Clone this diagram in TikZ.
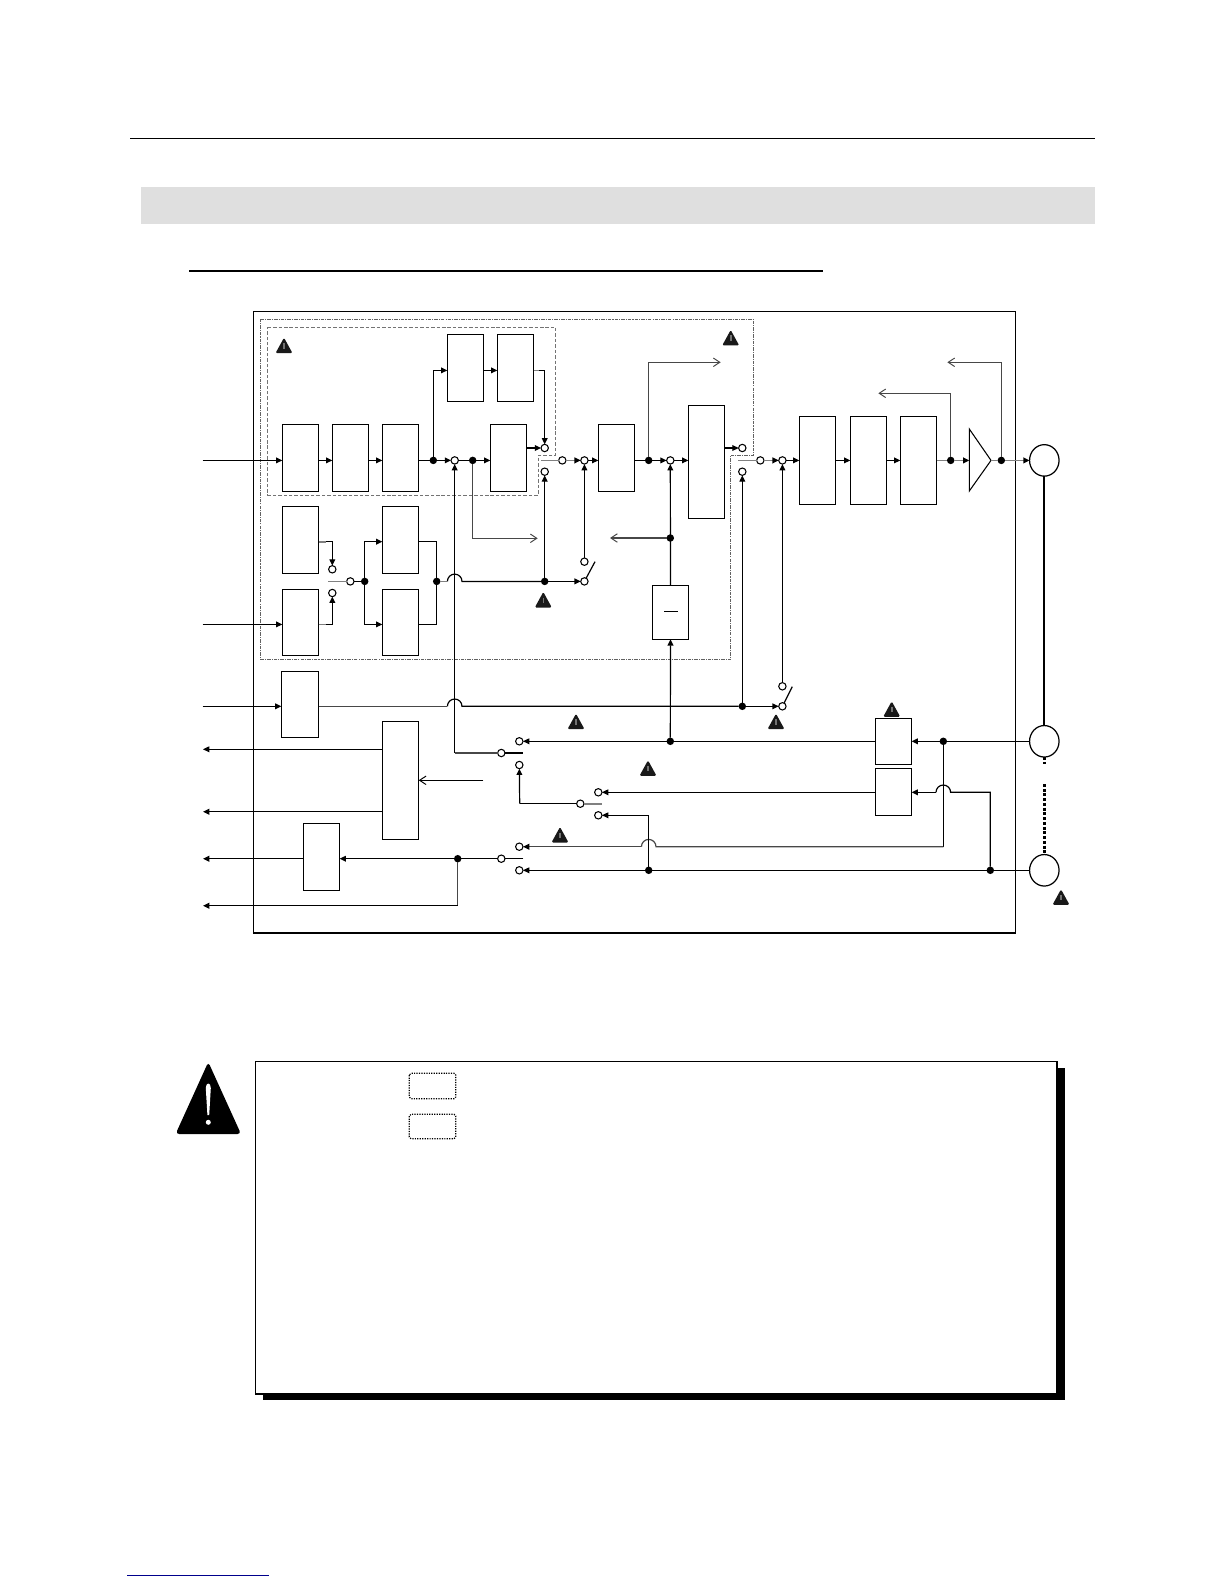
\documentclass[tikz,border=0pt]{standalone}
\usetikzlibrary{arrows.meta,calc,shapes.geometric}
\tikzset{
  x=0.02cm,y=-0.02cm,
  bx/.style={draw=black,fill=white,line width=0.7pt,inner sep=0pt,outer sep=0pt,rectangle},
  wire/.style={line width=0.68pt,draw=black},
  gwire/.style={line width=0.68pt,draw=black!72},
  stub/.style={line width=0.95pt,draw=black!50},
  ar/.style={-{Triangle[length=0.125cm,width=0.115cm,color=black]}},
  opn/.style={-{Straight Barb[length=0.13cm,width=0.17cm,line width=0.55pt]}},
  opencirc/.style={circle,draw=black,fill=white,line width=0.6pt,minimum size=0.148cm,inner sep=0pt,outer sep=0pt},
  dotc/.style={circle,fill=black,draw=none,minimum size=0.15cm,inner sep=0pt,outer sep=0pt},
  port/.style={ellipse,draw=black,fill=white,line width=0.7pt,minimum width=0.59cm,minimum height=0.63cm,inner sep=0pt,outer sep=0pt},
  dashdotline/.style={line width=0.65pt,draw=black!62,dash pattern=on 2pt off 0.6pt on 0.6pt off 0.6pt},
  dashline/.style={line width=0.55pt,draw=black!55,dash pattern=on 2pt off 1.1pt},
  warn/.pic={
    \fill[black!90,rounded corners=0.8pt] (0,-8) -- (8.5,7.5) -- (-8.5,7.5) -- cycle;
    \draw[black!55,line width=0.9pt] (0,-2.5) -- (0,3);
  },
}
\newcommand{\bxn}[5]{%
  \pgfmathsetmacro{\bxcx}{(#2+#3)/2}\pgfmathsetmacro{\bxcy}{(#4+#5)/2}%
  \pgfmathsetmacro{\bxw}{(#3-#2)*0.02}\pgfmathsetmacro{\bxh}{(#5-#4)*0.02}%
  \node[bx,minimum width=\bxw cm,minimum height=\bxh cm] (#1) at (\bxcx,\bxcy) {};}
\newcommand{\oc}[3]{\node[opencirc] (#1) at (#2,#3) {};}
\newcommand{\dt}[3]{\node[dotc] (#1) at (#2,#3) {};}
\begin{document}
\begin{tikzpicture}
\useasboundingbox (0,0) rectangle (1224,1584);
% page furniture
\fill[white] (0,0) rectangle (1224,1584);
\draw[line width=0.8pt] (130,138.3) -- (1095,138.3);
\fill[black!12.5] (141,187) rectangle (1095,224);
\draw[line width=1.25pt] (189,270.7) -- (823,270.7);
\draw[line width=0.8pt,draw=blue!55!black] (127,1575.3) -- (269,1575.3);

% outer frame
\draw[line width=0.75pt] (253.3,932.7) -- (253.3,311.7) -- (1015.7,311.7) -- (1015.7,932.7);
\draw[line width=1.25pt] (252.9,932.7) -- (1016.1,932.7);

% dashed regions
\draw[dashdotline] (260.7,319.3) -- (753.3,319.3) -- (753.3,455.3) -- (730.7,455.3) -- (730.7,659.3) -- (260.7,659.3) -- cycle;
\draw[dashline] (267.7,327.3) -- (555.7,327.3) -- (555.7,455.3) -- (538.3,455.3) -- (538.3,495) -- (267.7,495) -- cycle;

% boxes
\bxn{A}{282.3}{318.7}{424.3}{491.7}
\bxn{B}{332.3}{368.7}{424.3}{491.7}
\bxn{C}{382.3}{418.7}{424.3}{491.7}
\bxn{D}{490.3}{526.7}{424.3}{491.7}
\bxn{E}{447.3}{483.7}{334.3}{401.3}
\bxn{F}{497.3}{533.7}{334.3}{401.3}
\bxn{G}{282.3}{318.7}{506.3}{573.3}
\bxn{H}{282.3}{318.7}{589.3}{655.3}
\bxn{I}{382.3}{418.7}{506.3}{573.3}
\bxn{J}{382.3}{418.7}{589.3}{655.3}
\bxn{K}{598.3}{634.7}{424.3}{491.7}
\bxn{L}{688.3}{724.7}{405.3}{518.3}
\bxn{M}{652.3}{688.7}{585.3}{639.3}
\bxn{N}{799.3}{835.7}{416.3}{504.3}
\bxn{O}{850.3}{886.7}{416.3}{504.3}
\bxn{P}{900.3}{936.7}{416.3}{504.3}
\bxn{Q}{281.3}{318.7}{671.3}{737.7}
\bxn{R}{382.3}{418.7}{721.3}{839.3}
\bxn{S}{303.3}{339.7}{823.3}{890.3}
\bxn{T}{875.3}{911.7}{718.3}{764.3}
\bxn{U}{875.3}{911.7}{768.3}{815.7}
\draw[wire] (664.3,611.3) -- (678,611.3);
\coordinate (triT) at (969.3,429);
\coordinate (triB) at (969.3,491);
\coordinate (triW) at (969.3,460.4);
\coordinate (triE) at (991,460.4);
\draw[line width=0.6pt,fill=white] (triT) -- (triE) -- (triB) -- cycle;

% ports
\node[port] (p1) at (1044.3,460.4) {};
\node[port] (p2) at (1044.3,741.3) {};
\node[port] (p3) at (1044.3,870.3) {};
\draw[line width=1.25pt] (p1.south) -- (p2.north);
\draw[line width=1.5pt,dash pattern=on 1.7pt off 1pt] (p2.south) -- ++(0,7);
\draw[line width=1.5pt,dash pattern=on 1.7pt off 1pt] (1044.3,784) -- (p3.north);

% junctions and contacts
\dt{d1}{433.3}{460.4} \oc{c1}{454.7}{460.4} \dt{d2}{472.7}{460.4}
\oc{s1a}{544.7}{448} \oc{s1b}{544.7}{471.7}
\coordinate (s1p) at (541,460.4);
\oc{c2}{562.3}{460.4} \oc{c3}{584.4}{460.4}
\dt{d3}{648.7}{460.4} \oc{c4}{670.3}{460.4}
\dt{d4}{670.3}{538}
\oc{s2a}{742.3}{448} \oc{s2b}{742.3}{471.7}
\coordinate (s2p) at (738.3,460.4);
\oc{c5}{760.3}{460.4} \oc{c6}{782.4}{460.4}
\dt{d5}{950.7}{460.4} \dt{d6}{1001.3}{460.4}
\oc{s3a}{332.3}{569.3} \oc{s3b}{332.3}{593}
\coordinate (s3p) at (328.3,581.4);
\oc{c7}{350.3}{581.4} \dt{d7}{364.7}{581.4} \dt{d8}{436.7}{581.4}
\dt{d9}{544.7}{581.4} \oc{c8}{584.4}{581.4} \oc{c9}{584.4}{561.7}
\coordinate (b1) at (595,561.7);
\dt{d10}{742.3}{706.3} \oc{c10}{782.4}{706.3} \oc{c11}{782.4}{686.3}
\coordinate (b2) at (792.3,686.7);
\oc{s4a}{519.3}{741.3} \oc{s4b}{519.3}{765}
\oc{c12}{501.3}{753}
\coordinate (s4p) at (523.3,753);
\dt{d11}{670.3}{741.3} \dt{d12}{943.3}{741.3}
\oc{s5a}{598.3}{792.3} \oc{s5b}{598.3}{815.3}
\oc{c13}{580.3}{803.7}
\coordinate (s5p) at (602,803.7);
\oc{s6a}{519.3}{846.7} \oc{s6b}{519.3}{870.3}
\oc{c14}{501.3}{858.7}
\coordinate (s6p) at (523.3,858.7);
\dt{d13}{457.7}{858.7} \dt{d14}{648.7}{870.3} \dt{d15}{990.3}{870.3}

% free ends
\coordinate (inA) at (202.7,460.4);
\coordinate (inH) at (202.7,624.4);
\coordinate (inQ) at (202.7,706.3);
\coordinate (outR1) at (203,749.3);
\coordinate (outR2) at (203,811.7);
\coordinate (outS) at (203,858.7);
\coordinate (outD) at (203,905.7);
\coordinate (inR) at (483.3,780.3);
\coordinate (tapK) at (720.7,362.3);
\coordinate (tapD) at (537.7,538.3);
\coordinate (tapM) at (610,538);
\coordinate (tapP) at (878.3,393.3);
\coordinate (tapT) at (947.3,362.3);

% top row
\draw[wire,ar] (inA) -- (A.west |- inA);
\draw[wire,ar] (A.east |- inA) -- (B.west |- inA);
\draw[wire,ar] (B.east |- inA) -- (C.west |- inA);
\draw[wire] (C.east |- inA) -- (d1);
\draw[wire,ar] (d1) -- (c1);
\draw[wire] (c1) -- (d2);
\draw[wire,ar] (d2) -- (D.west |- d2);
\draw[wire,ar] (D.east |- s1a) -- (s1a);
\draw[wire,ar] (d1) |- (E.west |- 0,370.4);
\draw[wire,ar] (E.east |- 0,370.4) -- (F.west |- 0,370.4);
\draw[stub] (F.east |- 0,370.4) -- (539,370.4);
\draw[wire,ar] (539,370.4) -| (s1a);
\draw[stub] (s1p) -- (c2);
\draw[stub,ar] (c2) -- (c3);
\draw[wire,ar] (c3) -- (K.west |- c3);
\draw[wire] (K.east |- d3) -- (d3);
\draw[wire,ar] (d3) -- (c4);
\draw[wire,ar] (c4) -- (L.west |- c4);
\draw[wire,ar] (L.east |- s2a) -- (s2a);
\draw[stub] (s2p) -- (c5);
\draw[stub,ar] (c5) -- (c6);
\draw[wire,ar] (c6) -- (N.west |- c6);
\draw[wire,ar] (N.east |- c6) -- (O.west |- c6);
\draw[wire,ar] (O.east |- c6) -- (P.west |- c6);
\draw[stub] (P.east |- d5) -- (d5);
\draw[stub,ar] (d5) -- (triW);
\draw[stub] (triE) -- (d6);
\draw[stub,ar] (d6) -- (p1);
\draw[gwire,opn] (d5) |- (tapP);
\draw[gwire,opn] (d6) |- (tapT);
\draw[gwire,opn] (d3) |- (tapK);
\draw[gwire,opn] (d2) |- (tapD);
\draw[gwire,opn] (d4) -- (tapM);
\draw[wire,ar] (M.north) -- (c4);

% middle block
\draw[stub] (G.east |- 0,541.7) -- (326,541.7);
\draw[wire,ar] (326,541.7) -| (s3a);
\draw[wire,ar] (inH) -- (H.west |- inH);
\draw[stub] (H.east |- inH) -- (326,624.4);
\draw[wire,ar] (326,624.4) -| (s3b);
\draw[stub] (s3p) -- (c7);
\draw[wire] (c7) -- (d7);
\draw[wire,ar] (d7) |- (I.west |- 0,541.7);
\draw[wire,ar] (d7) |- (J.west |- inH);
\draw[wire] (I.east |- 0,541.7) -| (d8);
\draw[wire] (J.east |- inH) -| (d8);
\draw[stub] (d8) -- (447.4,581.4);
\draw[wire] (447.4,581.4) arc[start angle=180,end angle=0,radius=0.146cm] -- (d9);
\draw[wire,ar] (d9) -- (s1b);
\draw[wire,ar] (d9) -- (c8);
\draw[wire] (c8) -- (b1);
\draw[wire,ar] (c9) -- (c3);

% lower feeds
\draw[wire,ar] (inQ) -- (Q.west |- inQ);
\draw[gwire] (Q.east |- inQ) -- (447.4,706.3);
\draw[wire] (447.4,706.3) arc[start angle=180,end angle=0,radius=0.146cm] -- (d10);
\draw[wire,ar] (d10) -- (s2b);
\draw[wire,ar] (d10) -- (c10);
\draw[wire] (c10) -- (b2);
\draw[wire,ar] (c11) -- (c6);
\draw[wire,ar] (d11) -- (M.south);
\draw[wire,ar] (c1 |- c12) -- (c1);
\draw[gwire] (c1 |- c12) -- (c12);
\draw[wire] (c12) -- (s4p);
\draw[wire,ar] (T.west) -- (s4a);
\draw[wire,ar] (d12) -- (T.east);
\draw[wire] (p2) -- (d12);
\draw[wire,ar] (U.west |- s5a) -- (s5a);
\draw[wire] (d15) -- (d15 |- s5a) -- (950.6,792.3) arc[start angle=0,end angle=180,radius=0.146cm] coordinate (jl);
\draw[wire,ar] (jl) -- (U.east |- jl);
\draw[wire] (d12) -- (943.3,846.7);
\draw[gwire] (943.3,846.7) -- (656,846.7) arc[start angle=0,end angle=180,radius=0.146cm] coordinate (jm);
\draw[gwire,ar] (jm) -- (s6a);
\draw[wire] (c13) -- (519.7,803.7);
\draw[wire,ar] (519.7,803.7) -- (s4b);
\draw[stub] (c13) -- (s5p);
\draw[wire] (d14) -- (648.7,815.3);
\draw[wire,ar] (648.7,815.3) -- (s5b);
\draw[wire] (p3) -- (d15);
\draw[wire] (d15) -- (d14);
\draw[wire,ar] (d14) -- (s6b);
\draw[wire] (s6p) -- (c14);
\draw[wire] (c14) -- (d13);
\draw[wire,ar] (d13) -- (S.east |- d13);
\draw[wire,ar] (S.west |- outS) -- (outS);
\draw[gwire] (d13) -- (d13 |- outD);
\draw[wire,ar] (d13 |- outD) -- (outD);
\draw[wire,ar] (R.west |- outR1) -- (outR1);
\draw[wire,ar] (R.west |- outR2) -- (outR2);
\draw[wire,opn] (inR) -- (R.east |- inR);

% warning marks
\pic at (284,345.7) {warn};
\pic at (543.3,600) {warn};
\pic at (730.7,338) {warn};
\pic at (576,721.7) {warn};
\pic at (560,835) {warn};
\pic at (891.7,709.3) {warn};
\pic at (776,721.7) {warn};
\pic at (648,768.3) {warn};
\pic at (1061,897.3) {warn};

% note box
\fill[black] (262.6,1068) rectangle (1065,1400);
\node[bx,line width=0.8pt,minimum width=16.034cm,minimum height=6.654cm] (note) at (656.2,1227.7) {};
\draw[line width=0.7pt,dash pattern=on 0.7pt off 0.7pt,rounded corners=1pt] (409.3,1073.3) rectangle (455.7,1098.7);
\draw[line width=0.7pt,dash pattern=on 0.7pt off 0.7pt,rounded corners=1pt] (409.3,1114.3) rectangle (455.7,1138.7);

% large warning sign
\fill[black,rounded corners=2pt] (208.3,1062) -- (241,1134) -- (175.6,1134) -- cycle;
\fill[white] (205.8,1088) .. controls (205.8,1082) and (210.8,1082) .. (210.8,1088) -- (209.2,1115) -- (207.4,1115) -- cycle;
\fill[white] (208.3,1122.3) circle[radius=0.05cm];
\end{tikzpicture}
\end{document}
